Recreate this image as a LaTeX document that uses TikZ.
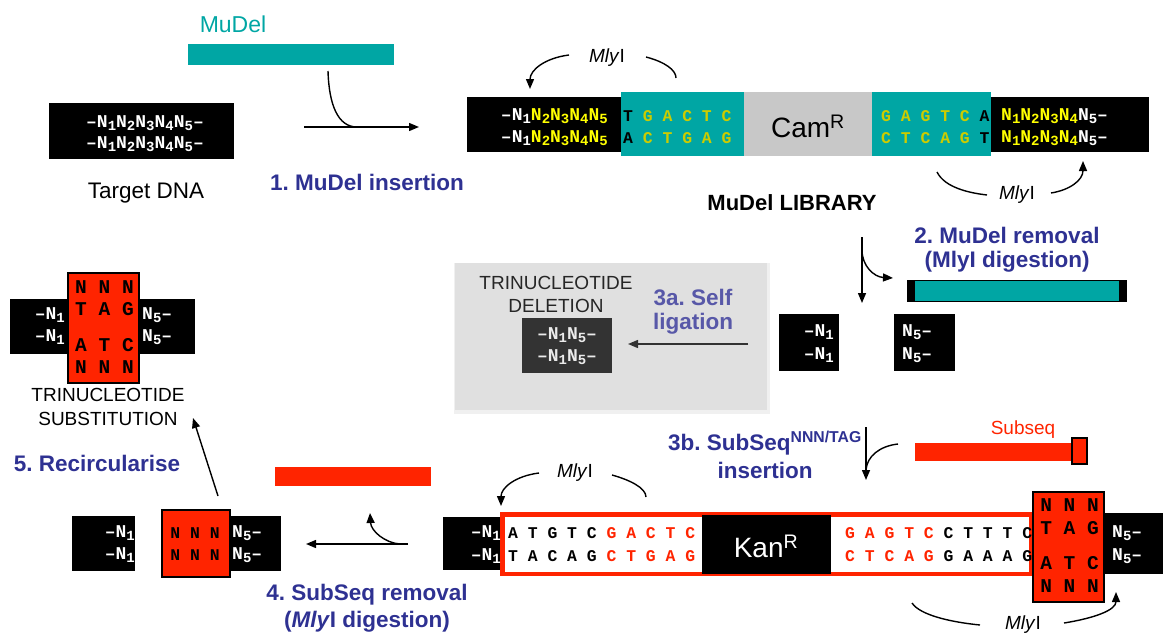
\documentclass[tikz,border=0pt]{standalone}
\usepackage{fontspec}
\setmainfont{Liberation Sans}
\setsansfont{Liberation Sans}
\newfontfamily\dnafam{Liberation Mono}
\usetikzlibrary{arrows.meta}
\definecolor{tealc}{RGB}{0,166,164}
\definecolor{dnaolive}{RGB}{204,204,0}
\definecolor{dnayel}{RGB}{255,255,0}
\definecolor{stepblue}{RGB}{46,49,146}
\definecolor{redc}{RGB}{255,36,0}
\definecolor{camgrey}{RGB}{200,200,200}
\definecolor{panelgrey}{RGB}{224,224,224}
\definecolor{selfblue}{RGB}{88,88,168}
\definecolor{darkbox}{RGB}{51,51,51}
\frenchspacing
\newcommand\fsz[1]{\fontsize{#1}{#1}\selectfont}
\newcommand\Nn[1]{N\raisebox{-0.35ex}{\fsz{14}#1}}
\newcommand\dsh{–}
\tikzset{
 box/.style={inner sep=0pt, outer sep=0pt},
 dna/.style={font=\dnafam\bfseries\fsz{18}, inner sep=0pt, text=white},
 sp/.style={font=\dnafam\bfseries\fsz{16.4}, inner sep=0pt},
 big/.style={font=\dnafam\bfseries\fsz{19.5}, inner sep=0pt, text=black},
 lbl/.style={font=\bfseries\fsz{22.5}, text=stepblue, inner sep=0pt},
 plain/.style={font=\fsz{19}, inner sep=0pt},
 arr/.style={line width=1.4pt, -{Triangle[length=10pt,width=8pt]}},
 crv/.style={line width=1.4pt},
}
\begin{document}
\begin{tikzpicture}[x=1pt,y=-1pt]
\useasboundingbox (0,0) rectangle (1164,635);

% ---------- step 1
\node[font=\fsz{23}, text=tealc, inner sep=0] (mudellbl) at (233,24) {MuDel};
\node[box, fill=tealc, minimum width=206, minimum height=21] (mudelbar) at (291,54.5) {};
\node[box, fill=black, minimum width=185, minimum height=56] (tgt) at (141.5,131) {};
\node[dna] (tgt1) at (145,123) {\dsh\Nn1\Nn2\Nn3\Nn4\Nn5\dsh};
\node[dna] (tgt2) at (145,144) {\dsh\Nn1\Nn2\Nn3\Nn4\Nn5\dsh};
\node[font=\fsz{22.5}, inner sep=0] (tgtlbl) at (146,193) {Target DNA};
\coordinate (a1s) at (304,127); \coordinate (a1e) at (419,127);
\coordinate (a1c) at (328,71); \coordinate (a1j) at (357,127);
\draw[arr] (a1s) -- (a1e);
\draw[crv] (a1c) .. controls (329,105) and (338,127) .. (a1j);
\node[lbl] (s1) at (367,182) {1. MuDel insertion};

% ---------- MuDel library
\node[box, fill=black, minimum width=154, minimum height=55] (libL) at (544,124.5) {};
\node[box, fill=tealc, minimum width=123, minimum height=64] (tealL) at (682.5,124) {};
\node[box, fill=camgrey, minimum width=128, minimum height=64] (cam) at (808,124) {};
\node[box, fill=tealc, minimum width=119, minimum height=64] (tealR) at (931.5,124) {};
\node[box, fill=black, minimum width=158, minimum height=55] (libR) at (1070,124.5) {};
\node[dna, anchor=east] (libL1) at (608,116) {\dsh\Nn1\textcolor{dnayel}{\Nn2\Nn3\Nn4\Nn5}};
\node[dna, anchor=east] (libL2) at (608,138) {\dsh\Nn1\textcolor{dnayel}{\Nn2\Nn3\Nn4\Nn5}};
\node[sp, anchor=west, text=dnaolive] (tL1) at (623,116) {\textcolor{black}{T} G A C T C};
\node[sp, anchor=west, text=dnaolive] (tL2) at (623,138) {\textcolor{black}{A} C T G A G};
\node[font=\fsz{28}, inner sep=0] (camtxt) at (808,126) {Cam\textsuperscript{R}};
\node[sp, anchor=west, text=dnaolive] (tR1) at (881,116) {G A G T C \textcolor{black}{A}};
\node[sp, anchor=west, text=dnaolive] (tR2) at (881,138) {C T C A G \textcolor{black}{T}};
\node[dna, anchor=west] (libR1) at (1001,116) {\textcolor{dnayel}{\Nn1\Nn2\Nn3\Nn4}\Nn5\dsh};
\node[dna, anchor=west] (libR2) at (1001,138) {\textcolor{dnayel}{\Nn1\Nn2\Nn3\Nn4}\Nn5\dsh};
\node[plain] (mly1) at (607,58) {\textit{Mly}I};
\coordinate (m1a) at (569,55); \coordinate (m1b) at (530,89);
\coordinate (m1c) at (646,57); \coordinate (m1d) at (676,78);
\draw[arr] (m1a) .. controls (545,58) and (530,70) .. (m1b);
\draw[crv] (m1c) .. controls (665,62) and (676,70) .. (m1d);
\node[plain] (mly2) at (1017,195) {\textit{Mly}I};
\coordinate (m2a) at (937,172); \coordinate (m2b) at (987,195);
\coordinate (m2c) at (1051,193); \coordinate (m2d) at (1083,161);
\draw[crv] (m2a) .. controls (945,188) and (970,193) .. (m2b);
\draw[arr] (m2c) .. controls (1070,190) and (1083,180) .. (m2d);
\node[font=\bfseries\fsz{22}, inner sep=0] (libtxt) at (792,203) {MuDel LIBRARY};

% ---------- step 2
\node[lbl] (s2a) at (1007,235) {2. MuDel removal};
\node[lbl] (s2b) at (1007,262) {(MlyI digestion)};
\coordinate (d2s) at (862,237); \coordinate (d2e) at (862,303);
\coordinate (d2j) at (862,250); \coordinate (d2t) at (893,278);
\draw[arr] (d2s) -- (d2e);
\draw[arr] (d2j) .. controls (862,266) and (874,277) .. (d2t);
\node[box, fill=black, minimum width=220, minimum height=22] (cutbar) at (1017,291) {};
\node[box, fill=tealc, minimum width=204, minimum height=20] (cutteal) at (1017,291) {};
\node[box, fill=black, minimum width=60, minimum height=57] (frL) at (809,342.5) {};
\node[box, fill=black, minimum width=61, minimum height=57] (frR) at (924.5,342.5) {};
\node[dna, anchor=east] (frL1) at (834,332) {\dsh\Nn1};
\node[dna, anchor=east] (frL2) at (834,355) {\dsh\Nn1};
\node[dna, anchor=west] (frR1) at (902,332) {\Nn5\dsh};
\node[dna, anchor=west] (frR2) at (902,355) {\Nn5\dsh};

% ---------- step 3a
\node[box, fill=black!6, minimum width=316, minimum height=151] (panelsh) at (612,338) {};
\node[box, fill=panelgrey, minimum width=312, minimum height=147] (panel) at (611,336.5) {};
\node[plain, text=black!85] (del1) at (556,283) {TRINUCLEOTIDE};
\node[plain, text=black!85] (del2) at (556,306) {DELETION};
\node[box, fill=darkbox, minimum width=90, minimum height=55] (delbox) at (567,345.5) {};
\node[dna, text=black!8] (del3) at (567,335) {\dsh\Nn1\Nn5\dsh};
\node[dna, text=black!8] (del4) at (567,357) {\dsh\Nn1\Nn5\dsh};
\node[lbl, text=selfblue] (s3a1) at (693,297) {3a. Self};
\node[lbl, text=selfblue] (s3a2) at (693,324) {ligation};
\coordinate (a3s) at (748,344); \coordinate (a3e) at (628,344);
\draw[arr, draw=black!80, fill=black!80] (a3s) -- (a3e);

% ---------- trinucleotide substitution
\node[box, fill=black, minimum width=185, minimum height=55] (subBk) at (102.5,326.5) {};
\node[box, fill=redc, draw=black, line width=1.3pt, minimum width=71, minimum height=110] (subRed) at (103.5,328) {};
\node[big] (sr1) at (104.5,287) {N N N};
\node[big] (sr2) at (104.5,309) {T A G};
\node[big] (sr3) at (104.5,345) {A T C};
\node[big] (sr4) at (104.5,367) {N N N};
\node[dna, anchor=east] (sl1) at (65,315) {\dsh\Nn1};
\node[dna, anchor=east] (sl2) at (65,337) {\dsh\Nn1};
\node[dna, anchor=west] (sn1) at (142,315) {\Nn5\dsh};
\node[dna, anchor=west] (sn2) at (142,337) {\Nn5\dsh};
\node[plain] (sub1) at (108,395) {TRINUCLEOTIDE};
\node[plain] (sub2) at (108,419) {SUBSTITUTION};

% ---------- step 5
\coordinate (a5s) at (218,496); \coordinate (a5e) at (193,418);
\draw[arr] (a5s) -- (a5e);
\node[lbl] (s5) at (97,463) {5. Recircularise};

% ---------- step 4 product
\node[box, fill=black, minimum width=63, minimum height=55] (p4L) at (103.5,543.5) {};
\node[box, fill=black, minimum width=51, minimum height=55] (p4R) at (255.5,543.5) {};
\node[box, fill=redc, draw=black, line width=1.3pt, minimum width=68, minimum height=67] (p4red) at (196,543.5) {};
\node[dna, anchor=east] (p4l1) at (135,533) {\dsh\Nn1};
\node[dna, anchor=east] (p4l2) at (135,555) {\dsh\Nn1};
\node[sp, text=black] (p4m1) at (195,533) {N N N};
\node[sp, text=black] (p4m2) at (195,555) {N N N};
\node[dna, anchor=west] (p4r1) at (232,533) {\Nn5\dsh};
\node[dna, anchor=west] (p4r2) at (232,555) {\Nn5\dsh};
\node[box, fill=redc, minimum width=156, minimum height=19] (redbar) at (353,476.5) {};
\coordinate (a4s) at (408,544); \coordinate (a4e) at (306,544);
\coordinate (a4j) at (400,544); \coordinate (a4t) at (370,513);
\draw[arr] (a4s) -- (a4e);
\draw[arr] (a4j) .. controls (385,543) and (371,531) .. (a4t);
\node[lbl] (s4a) at (367,595) {4. SubSeq removal};
\node[lbl] (s4b) at (367,622) {(\textit{Mly}I digestion)};

% ---------- step 3b
\node[lbl] (s3b1) at (765,443) {3b. SubSeq\textsuperscript{NNN/TAG}};
\node[lbl] (s3b2) at (765,470) {insertion};
\coordinate (d3s) at (866,427); \coordinate (d3e) at (866,480);
\coordinate (d3c) at (898,444); \coordinate (d3j) at (866,470);
\draw[arr] (d3s) -- (d3e);
\draw[crv] (d3c) .. controls (880,446) and (867,456) .. (d3j);
\node[font=\fsz{19}, text=redc, inner sep=0] (subseqlbl) at (1023,430) {Subseq};
\node[box, fill=redc, minimum width=157, minimum height=18] (subseqbar) at (993.5,452) {};
\node[box, fill=redc, draw=black, line width=1.3pt, minimum width=15, minimum height=26] (subseqend) at (1079.5,451) {};

% ---------- SubSeq library
\node[box, fill=black, minimum width=57, minimum height=53] (bL) at (471.5,543.5) {};
\node[box, fill=black, minimum width=60, minimum height=61] (bR) at (1133,543.5) {};
\node[box, fill=redc, minimum width=533, minimum height=64] (redout) at (766.5,544) {};
\node[box, fill=white, minimum width=524, minimum height=55] (whitein) at (766.5,544) {};
\node[box, fill=black, minimum width=129, minimum height=59] (kan) at (766.5,544.5) {};
\node[font=\fsz{28}, text=white, inner sep=0] (kantxt) at (766,546) {Kan\textsuperscript{R}};
\node[box, fill=redc, draw=black, line width=1.3pt, minimum width=71, minimum height=110] (nbox) at (1068.5,547) {};
\node[dna, anchor=east] (bl1) at (501,533) {\dsh\Nn1};
\node[dna, anchor=east] (bl2) at (501,556) {\dsh\Nn1};
\node[sp, anchor=west, text=black] (q1) at (508,533) {A T G T C \textcolor{redc}{G A C T C}};
\node[sp, anchor=west, text=black] (q2) at (508,556) {T A C A G \textcolor{redc}{C T G A G}};
\node[sp, anchor=west, text=black] (q3) at (845,533) {\textcolor{redc}{G A G T C} C T T T C};
\node[sp, anchor=west, text=black] (q4) at (845,556) {\textcolor{redc}{C T C A G} G A A A G};
\node[big] (nr1) at (1069.5,505) {N N N};
\node[big] (nr2) at (1069.5,528) {T A G};
\node[big] (nr3) at (1069.5,563) {A T C};
\node[big] (nr4) at (1069.5,586) {N N N};
\node[dna, anchor=west] (br1) at (1112,533) {\Nn5\dsh};
\node[dna, anchor=west] (br2) at (1112,556) {\Nn5\dsh};
\node[plain] (mly3) at (575,473) {\textit{Mly}I};
\coordinate (m3a) at (539,473); \coordinate (m3b) at (501,506);
\coordinate (m3c) at (612,475); \coordinate (m3d) at (646,497);
\draw[arr] (m3a) .. controls (515,476) and (501,488) .. (m3b);
\draw[crv] (m3c) .. controls (630,480) and (646,488) .. (m3d);
\node[plain] (mly4) at (1023,625) {\textit{Mly}I};
\coordinate (m4a) at (912,603); \coordinate (m4b) at (980,625);
\coordinate (m4c) at (1064,623); \coordinate (m4d) at (1116,592);
\draw[crv] (m4a) .. controls (920,615) and (950,622) .. (m4b);
\draw[arr] (m4c) .. controls (1095,618) and (1116,610) .. (m4d);
\end{tikzpicture}
\end{document}
